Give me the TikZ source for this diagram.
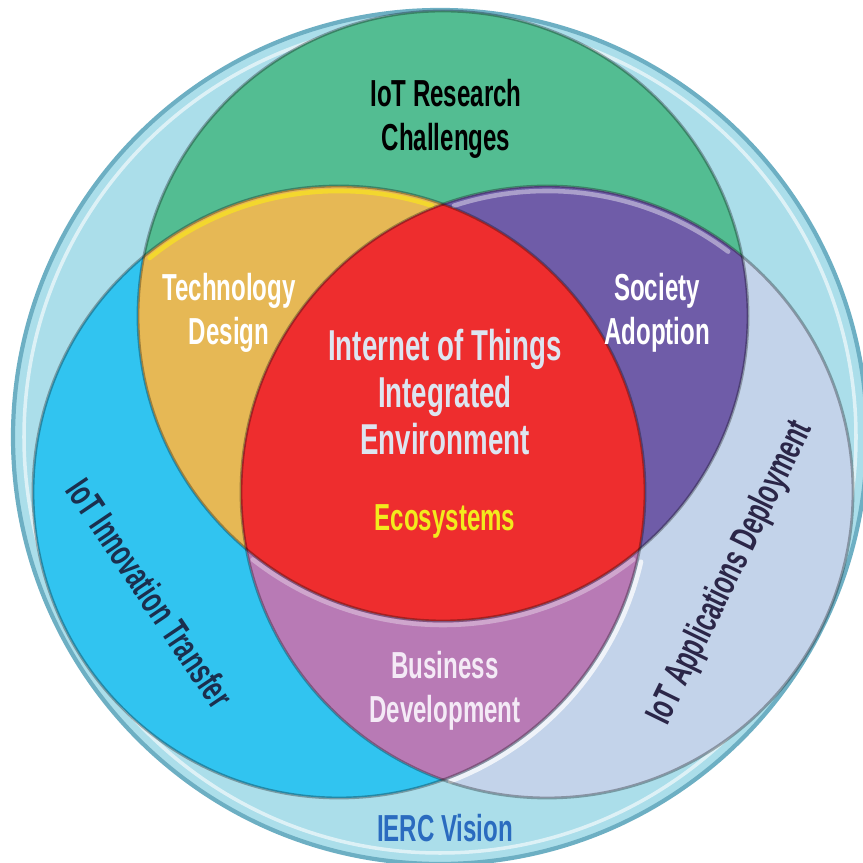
\documentclass[tikz,border=0pt]{standalone}
\usepackage{fontspec}
\setmainfont{Liberation Sans}[FakeStretch=0.64]
\usepackage{xcolor}
\usetikzlibrary{calc, positioning}

\definecolor{ringblue}{HTML}{ABDEEA}
\definecolor{ringedge}{HTML}{6DAFC3}
\definecolor{resgreen}{HTML}{53BD92}
\definecolor{innocyan}{HTML}{31C4F0}
\definecolor{applav}{HTML}{C3D3EA}
\definecolor{techgold}{HTML}{E6B855}
\definecolor{socviolet}{HTML}{6F5CA8}
\definecolor{busmauve}{HTML}{B87AB5}
\definecolor{ecored}{HTML}{EE2D2E}
\definecolor{iottext}{HTML}{DDE5F0}
\definecolor{ecotext}{HTML}{F2EB1D}
\definecolor{bustext}{HTML}{F4EAF6}
\definecolor{ittext}{HTML}{1B2F4E}
\definecolor{adtext}{HTML}{2B2648}
\definecolor{ierctext}{HTML}{2A6BBF}

\tikzset{
	lbl/.style={align=center, inner sep=0pt, font=\bfseries\fontsize{10.7}{12.5}\selectfont},
	rim/.style={draw=black, draw opacity=0.3, line width=0.8pt},
	shine/.style={line width=1.3pt, line cap=round, opacity=0.75}
}

\begin{document}
\begin{tikzpicture}
		\useasboundingbox (0,0) rectangle (8.63,8.63);
		\clip (0,0) rectangle (8.63,8.63);
		% circles %
		\coordinate (o) at (4.40,4.26);
		\coordinate (g) at (4.43,5.47);
		\coordinate (l) at (3.39,3.71);
		\coordinate (r) at (5.47,3.71);
		\fill[ringblue] (o) circle (4.28);
		\draw[ringedge, line width=1.2pt] (o) circle (4.27);
		\draw[white, opacity=0.6, line width=1pt] (o) circle (4.16);
		\fill[resgreen] (g) circle (3.05);
		\fill[innocyan] (l) circle (3.06);
		\fill[applav] (r) circle (3.06);
		\begin{scope}
			\clip (l) circle (3.06);
			\fill[busmauve] (r) circle (3.06);
		\end{scope}
		\begin{scope}
			\clip (g) circle (3.05);
			\fill[techgold] (l) circle (3.06);
			\fill[socviolet] (r) circle (3.06);
			\clip (l) circle (3.06);
			\fill[ecored] (r) circle (3.06);
		\end{scope}
		% highlights %
		\draw[shine, yellow!70!techgold] ($(l)+(129:3.01)$) arc (129:72:3.01);
		\draw[shine, socviolet!45!white] ($(r)+(108:3.01)$) arc (108:53:3.01);
		\draw[shine, white] ($(l)+(-13:3.10)$) arc (-13:-69:3.10);
		\draw[shine, busmauve!55!white] ($(g)+(232:3.09)$) arc (232:308:3.09);
		% edges %
		\draw[rim] (g) circle (3.05);
		\draw[rim] (l) circle (3.06);
		\draw[rim] (r) circle (3.06);

		% nodes %
		\node[lbl, text=black] (rc) at (4.46,7.44) {IoT Research\\Challenges};
		\node[lbl, text=white] (td) at (2.29,5.50) {Technology\\Design};
		\node[lbl, text=white] (sa) at (6.57,5.50) {Society\\Adoption};
		\node[lbl, text=iottext, font=\bfseries\fontsize{12.3}{13.4}\selectfont] (iot) at (4.45,4.71) {Internet of Things\\Integrated\\Environment};
		\node[lbl, text=ecotext] (eco) at (4.45,3.42) {Ecosystems};
		\node[lbl, text=bustext] (bd) at (4.45,1.72) {Business\\Development};
		\node[lbl, text=ittext, rotate=-56] (it) at (1.50,2.70) {IoT Innovation Transfer};
		\node[lbl, text=adtext, rotate=64] (ad) at (7.31,2.90) {IoT Applications Deployment};
		\node[lbl, text=ierctext] (ierc) at (4.45,0.35) {IERC Vision};
\end{tikzpicture}
\end{document}
